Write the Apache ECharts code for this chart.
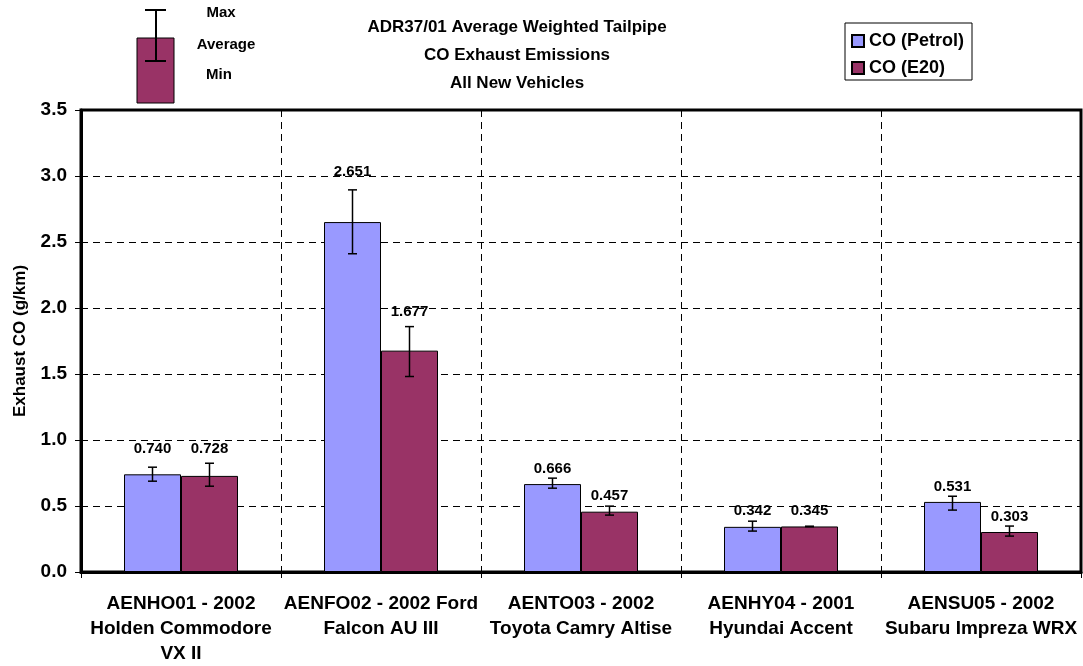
<!DOCTYPE html>
<html>
<head>
<meta charset="utf-8">
<title>ADR37/01 CO Exhaust Emissions</title>
<script src="https://cdn.jsdelivr.net/npm/echarts@6/dist/echarts.min.js"></script>
<style>
  html, body { margin: 0; padding: 0; background: #fff; }
  #chart { width: 1083px; height: 666px; }
</style>
</head>
<body>
<div id="chart"></div>
<script>
// vehicles
const categories = [
  'AENHO01 - 2002\nHolden Commodore\nVX II',
  'AENFO02 - 2002 Ford\nFalcon AU III',
  'AENTO03 - 2002\nToyota Camry Altise',
  'AENHY04 - 2001\nHyundai Accent',
  'AENSU05 - 2002\nSubaru Impreza WRX'
]
// averages (g/km)
const petrolAvg = [0.740, 2.651, 0.666, 0.342, 0.531]
const e20Avg = [0.728, 1.677, 0.457, 0.345, 0.303]
// min / max
const petrolMin = [0.688, 2.411, 0.635, 0.310, 0.469]
const petrolMax = [0.794, 2.895, 0.711, 0.385, 0.574]
const e20Min = [0.650, 1.481, 0.431, 0.343, 0.272]
const e20Max = [0.824, 1.859, 0.499, 0.347, 0.348]
const yTicks = [0, 0.5, 1.0, 1.5, 2.0, 2.5, 3.0, 3.5]

// label distance above bar (hand placed in the original)
const petrolLift = [18, 43, 8, 8, 8]
const e20Lift = [20, 31, 8, 8, 8]

const FONT = "'Liberation Sans', Arial, sans-serif"
const BAR_W = 57

const chart = echarts.init(document.getElementById('chart'))

function barData(vals, lift){
  return vals.map((v, i) => ({ value: v, label: { distance: lift[i] } }))
}

function errData(mins, maxs){
  return mins.map((m, i) => [i, m, maxs[i]])
}

// error bar drawn with the axis scale
function errRender(offset){
  return function(params, api){
    const c = api.coord([api.value(0), api.value(1)])
    const top = api.coord([api.value(0), api.value(2)])
    const x = c[0] + offset
    const cap = 4.5
    const st = { stroke: '#000', lineWidth: 1.5 }
    return {
      type: 'group',
      children: [
        { type: 'line', shape: { x1: x, y1: top[1], x2: x, y2: c[1] }, style: st },
        { type: 'line', shape: { x1: x - cap, y1: top[1], x2: x + cap, y2: top[1] }, style: st },
        { type: 'line', shape: { x1: x - cap, y1: c[1], x2: x + cap, y2: c[1] }, style: st }
      ]
    }
  }
}

const dashed = { color: '#000', width: 1, type: [7, 5] }

const option = {
  animation: false,
  textStyle: { fontFamily: FONT },
  title: {
    text: 'ADR37/01 Average Weighted Tailpipe\nCO Exhaust Emissions\nAll New Vehicles',
    left: 512,
    textAlign: 'center',
    top: 8,
    textStyle: { fontSize: 17, fontWeight: 'bold', color: '#000', lineHeight: 28, fontFamily: FONT }
  },
  legend: {
    orient: 'vertical',
    left: 845,
    top: 23,
    padding: [9, 8, 3, 6],
    itemGap: 9,
    itemWidth: 12,
    itemHeight: 12,
    icon: 'rect',
    borderColor: '#000',
    borderWidth: 1,
    data: ['CO (Petrol)', 'CO (E20)'],
    textStyle: { fontSize: 18, fontWeight: 'bold', color: '#000', fontFamily: FONT }
  },
  grid: {
    left: 81, right: 2, top: 110, bottom: 93,
    show: true, borderColor: '#000', borderWidth: 3
  },
  xAxis: {
    type: 'category',
    data: categories,
    axisLine: { lineStyle: { color: '#000', width: 3 } },
    axisTick: { show: true, length: 6, lineStyle: { color: '#000', width: 1 } },
    splitLine: { show: true, lineStyle: dashed },
    axisLabel: {
      margin: 19,
      fontSize: 19, fontWeight: 'bold', color: '#000', lineHeight: 25, fontFamily: FONT,
      interval: 0
    }
  },
  yAxis: {
    type: 'value',
    min: yTicks[0],
    max: yTicks[yTicks.length - 1],
    interval: 0.5,
    name: 'Exhaust CO (g/km)',
    nameLocation: 'middle',
    nameGap: 52,
    nameTextStyle: { fontSize: 17, fontWeight: 'bold', color: '#000', fontFamily: FONT },
    axisLine: { show: true, lineStyle: { color: '#000', width: 3 } },
    axisTick: { show: true, length: 6, lineStyle: { color: '#000', width: 1 } },
    splitLine: { show: true, lineStyle: dashed },
    axisLabel: {
      margin: 14,
      fontSize: 19, fontWeight: 'bold', color: '#000', fontFamily: FONT,
      formatter: v => v.toFixed(1)
    }
  },
  series: [
    {
      name: 'CO (Petrol)',
      type: 'bar',
      barWidth: BAR_W,
      barGap: '0%',
      data: barData(petrolAvg, petrolLift),
      itemStyle: { color: '#9999FF', borderColor: '#000', borderWidth: 1 },
      label: {
        show: true, position: 'top',
        fontSize: 15, fontWeight: 'bold', color: '#000', fontFamily: FONT,
        formatter: p => p.value.toFixed(3)
      }
    },
    {
      name: 'CO (E20)',
      type: 'bar',
      barWidth: BAR_W,
      barGap: '0%',
      data: barData(e20Avg, e20Lift),
      itemStyle: { color: '#993366', borderColor: '#000', borderWidth: 1 },
      label: {
        show: true, position: 'top',
        fontSize: 15, fontWeight: 'bold', color: '#000', fontFamily: FONT,
        formatter: p => p.value.toFixed(3)
      }
    },
    {
      type: 'custom',
      renderItem: errRender(-BAR_W / 2),
      data: errData(petrolMin, petrolMax),
      encode: { x: 0, y: [1, 2] },
      z: 10
    },
    {
      type: 'custom',
      renderItem: errRender(BAR_W / 2),
      data: errData(e20Min, e20Max),
      encode: { x: 0, y: [1, 2] },
      z: 10
    }
  ],
  // key explaining the error bars, top left
  graphic: [
    { type: 'rect', shape: { x: 137, y: 38, width: 37, height: 65 },
      style: { fill: '#993366', stroke: '#000', lineWidth: 1 } },
    { type: 'line', shape: { x1: 156, y1: 10, x2: 156, y2: 61 }, style: { stroke: '#000', lineWidth: 2 } },
    { type: 'line', shape: { x1: 145, y1: 10, x2: 166, y2: 10 }, style: { stroke: '#000', lineWidth: 2 } },
    { type: 'line', shape: { x1: 145, y1: 61, x2: 166, y2: 61 }, style: { stroke: '#000', lineWidth: 2 } },
    { type: 'text', x: 221, y: 13, style: { text: 'Max', font: 'bold 15px ' + FONT, fill: '#000', textAlign: 'center', textVerticalAlign: 'middle' } },
    { type: 'text', x: 226, y: 45, style: { text: 'Average', font: 'bold 15px ' + FONT, fill: '#000', textAlign: 'center', textVerticalAlign: 'middle' } },
    { type: 'text', x: 219, y: 75, style: { text: 'Min', font: 'bold 15px ' + FONT, fill: '#000', textAlign: 'center', textVerticalAlign: 'middle' } }
  ]
}

chart.setOption(option)
</script>
</body>
</html>
